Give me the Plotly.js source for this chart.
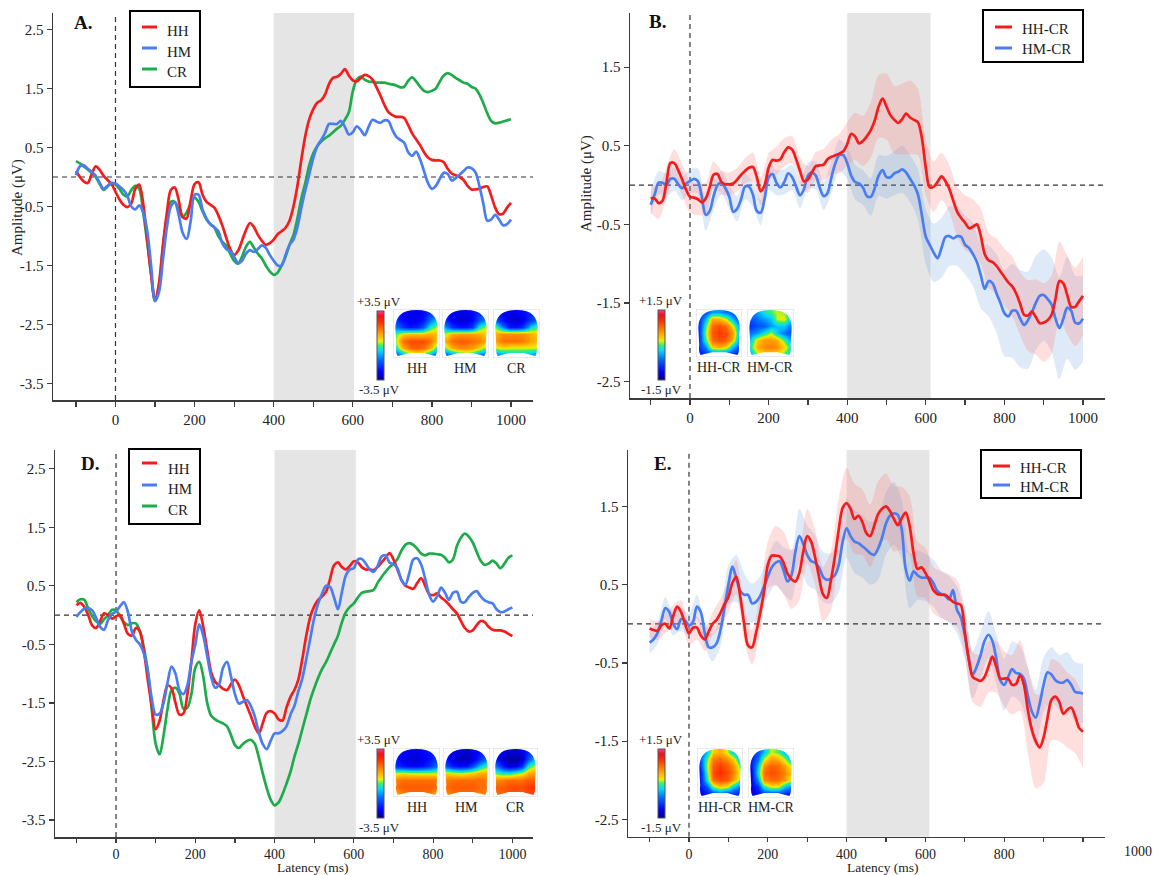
<!DOCTYPE html>
<html><head><meta charset="utf-8">
<script src="https://cdn.plot.ly/plotly-3.0.1.min.js"></script>
<style>html,body{margin:0;padding:0;background:#fff}#chart{width:1160px;height:875px}</style>
</head><body><div id="chart"></div>
<script>
const W=1160,H=875;
const SERIF='"Liberation Serif","Times New Roman",Times,serif';
const RED='#f51c1c', BLUE='#4a7df2', GREEN='#1eab4a';
const INK='#222', AXIS='#3c3c3c';
const T_START=-100, T_STEP=10, BAND_STEP=20;

// ---------- labels ----------
const COND=['HH','HM','CR'];
const DIFF=['HH-CR','HM-CR'];
const PANEL_LETTERS=['A.','B.','D.','E.'];
const CBAR_BIG=['+3.5 μV','-3.5 μV'];
const CBAR_SMALL=['+1.5 μV','-1.5 μV'];
const Y_TITLE='Amplitude (μV)', X_TITLE='Latency (ms)';
const X_TICKS=[-100,0,100,200,300,400,500,600,700,800,900,1000];
const X_LABELS=['','0','','200','','400','','600','','800','','1000'];
const X_LABELS_E=['','0','','200','','400','','600','','800','',''];
const Y_TICKS_AD=[-3.5,-2.5,-1.5,-0.5,0.5,1.5,2.5];
const Y_LABELS_AD=['-3.5','-2.5','-1.5','-0.5','0.5','1.5','2.5'];
const Y_TICKS_BE=[-2.5,-1.5,-0.5,0.5,1.5];
const Y_LABELS_BE=['-2.5','-1.5','-0.5','0.5','1.5'];

// ---------- waveforms (µV), -100..1000 ms every 10 ms ----------
const A_HH=[0.10,0.0,-0.08,-0.10,0.05,0.18,0.12,0.02,-0.05,-0.12,
 -0.25,-0.38,-0.47,-0.51,-0.45,-0.2,-0.13,-0.45,-1.05,-1.65,
 -2.1,-1.8,-1.15,-0.6,-0.22,-0.18,-0.4,-0.68,-0.7,-0.4,
 -0.12,-0.09,-0.3,-0.42,-0.47,-0.52,-0.65,-0.82,-1.03,-1.22,
 -1.32,-1.25,-1.08,-0.9,-0.78,-0.85,-0.98,-1.08,-1.15,-1.12,
 -1.06,-0.97,-0.92,-0.86,-0.74,-0.5,-0.15,0.3,0.7,0.98,
 1.15,1.26,1.3,1.4,1.58,1.68,1.7,1.75,1.83,1.72,
 1.64,1.62,1.68,1.73,1.71,1.65,1.52,1.38,1.22,1.1,
 1.05,1.02,1.02,1.0,0.88,0.74,0.64,0.54,0.42,0.33,
 0.29,0.28,0.28,0.25,0.14,0.06,0.03,0.0,-0.05,-0.15,
 -0.21,-0.21,-0.2,-0.17,-0.16,-0.32,-0.52,-0.63,-0.62,-0.52,
 -0.44];
const A_HM=[0.03,0.18,0.2,0.14,0.09,0.02,-0.1,-0.2,-0.15,-0.1,
 -0.11,-0.16,-0.22,-0.32,-0.5,-0.55,-0.48,-0.6,-0.9,-1.5,
 -2.1,-1.95,-1.4,-0.85,-0.5,-0.43,-0.65,-0.95,-1.05,-0.75,
 -0.3,-0.3,-0.55,-0.7,-0.8,-0.85,-0.92,-1.12,-1.22,-1.26,
 -1.35,-1.46,-1.42,-1.3,-1.24,-1.27,-1.22,-1.16,-1.2,-1.32,
 -1.42,-1.5,-1.5,-1.32,-1.15,-1.06,-0.85,-0.52,-0.22,0.05,
 0.32,0.52,0.63,0.75,0.9,0.9,0.9,0.95,0.85,0.72,
 0.76,0.86,0.8,0.71,0.85,0.97,0.94,0.92,0.96,0.95,
 0.8,0.68,0.63,0.58,0.42,0.36,0.43,0.3,0.1,-0.1,
 -0.2,-0.15,-0.03,0.07,0.05,-0.06,-0.02,0.04,0.1,0.16,
 0.15,0.08,-0.15,-0.45,-0.74,-0.72,-0.64,-0.72,-0.82,-0.8,
 -0.72];
const A_CR=[0.27,0.23,0.18,0.13,0.07,0.0,-0.12,-0.22,-0.16,-0.11,
 -0.13,-0.2,-0.3,-0.33,-0.22,-0.15,-0.2,-0.6,-1.1,-1.65,
 -2.1,-1.85,-1.2,-0.7,-0.42,-0.42,-0.55,-0.68,-0.6,-0.45,
 -0.35,-0.42,-0.58,-0.72,-0.8,-0.86,-1.0,-1.1,-1.16,-1.3,
 -1.42,-1.47,-1.35,-1.18,-1.1,-1.2,-1.3,-1.38,-1.5,-1.6,
 -1.66,-1.62,-1.5,-1.35,-1.15,-0.98,-0.7,-0.36,-0.1,0.2,
 0.4,0.52,0.6,0.66,0.7,0.76,0.82,0.87,0.97,1.1,
 1.45,1.65,1.7,1.65,1.62,1.61,1.6,1.6,1.6,1.58,
 1.57,1.55,1.52,1.53,1.63,1.69,1.62,1.53,1.46,1.44,
 1.46,1.5,1.62,1.72,1.76,1.73,1.68,1.64,1.6,1.58,
 1.53,1.5,1.4,1.25,1.08,0.95,0.91,0.92,0.94,0.96,
 0.98];
const B_HH=[-0.17,-0.17,-0.23,-0.2,0.03,0.28,0.28,0.19,0.07,-0.06,
 -0.15,-0.16,-0.18,-0.22,-0.17,-0.03,0.13,0.14,0.04,0.01,
 0.01,0.02,0.07,0.13,0.18,0.22,0.23,0.1,-0.08,0.0,
 0.22,0.32,0.31,0.33,0.42,0.48,0.45,0.33,0.18,0.05,
 0.07,0.16,0.24,0.25,0.26,0.33,0.36,0.38,0.4,0.43,
 0.52,0.65,0.62,0.53,0.56,0.62,0.7,0.82,1.0,1.1,
 1.0,0.89,0.83,0.79,0.84,0.91,0.86,0.83,0.8,0.6,
 0.22,-0.03,-0.02,0.04,0.11,0.05,-0.05,-0.2,-0.34,-0.42,
 -0.48,-0.55,-0.53,-0.5,-0.65,-0.88,-0.96,-0.98,-1.03,-1.1,
 -1.17,-1.24,-1.29,-1.38,-1.51,-1.65,-1.66,-1.61,-1.68,-1.76,
 -1.75,-1.72,-1.65,-1.45,-1.22,-1.25,-1.4,-1.55,-1.55,-1.48,
 -1.41];
const B_HM=[-0.25,-0.12,0.03,0.03,0.0,0.08,0.08,0.01,-0.04,0.02,
 0.05,0.08,0.05,-0.15,-0.38,-0.33,-0.14,0.0,0.03,-0.04,
 -0.15,-0.34,-0.3,-0.18,-0.02,-0.02,-0.12,-0.33,-0.35,-0.17,
 0.1,0.14,0.03,-0.03,0.04,0.15,0.1,-0.02,-0.13,-0.05,
 0.12,0.16,0.12,-0.03,-0.14,-0.1,0.1,0.28,0.38,0.38,
 0.28,0.12,0.04,0.02,-0.03,-0.14,-0.15,-0.04,0.12,0.19,
 0.1,0.1,0.15,0.17,0.2,0.16,0.08,0.0,-0.12,-0.38,
 -0.66,-0.76,-0.86,-0.93,-0.8,-0.66,-0.65,-0.68,-0.65,-0.66,
 -0.76,-0.8,-0.88,-0.98,-1.15,-1.32,-1.22,-1.25,-1.38,-1.5,
 -1.63,-1.67,-1.6,-1.6,-1.7,-1.78,-1.72,-1.62,-1.5,-1.41,
 -1.4,-1.45,-1.52,-1.7,-1.82,-1.7,-1.56,-1.6,-1.75,-1.76,
 -1.7];
const D_HH=[0.17,0.21,0.14,0.0,-0.18,-0.22,-0.1,0.03,0.0,-0.06,
 -0.02,0.0,-0.15,-0.32,-0.35,-0.22,-0.28,-0.6,-1.1,-1.55,
 -1.95,-1.8,-1.45,-1.2,-1.25,-1.5,-1.7,-1.68,-1.35,-0.8,
 -0.15,0.08,-0.2,-0.6,-0.98,-1.14,-1.2,-1.26,-1.28,-1.18,
 -1.1,-1.2,-1.38,-1.55,-1.72,-1.9,-2.02,-1.85,-1.67,-1.64,
 -1.68,-1.78,-1.8,-1.58,-1.4,-1.28,-1.1,-0.75,-0.35,-0.03,
 0.15,0.26,0.32,0.4,0.62,0.85,0.9,0.82,0.78,0.84,
 0.92,0.9,0.82,0.78,0.78,0.77,0.82,0.9,0.98,1.06,
 0.95,0.78,0.6,0.5,0.47,0.45,0.55,0.63,0.5,0.36,
 0.34,0.37,0.3,0.25,0.18,0.1,0.03,-0.1,-0.22,-0.28,
 -0.26,-0.17,-0.1,-0.12,-0.2,-0.25,-0.26,-0.26,-0.28,-0.32,
 -0.36];
const D_HM=[-0.03,0.05,0.11,0.12,0.08,-0.05,-0.2,-0.25,-0.08,0.02,
 0.06,0.15,0.22,0.05,-0.28,-0.42,-0.5,-0.65,-0.95,-1.42,
 -1.7,-1.68,-1.5,-1.15,-0.88,-1.0,-1.28,-1.35,-1.2,-0.8,
 -0.5,-0.16,-0.35,-0.7,-1.05,-1.24,-1.18,-0.9,-0.8,-1.05,
 -1.35,-1.51,-1.48,-1.45,-1.55,-1.73,-2.0,-2.2,-2.29,-2.15,
 -2.02,-2.02,-1.98,-1.9,-1.7,-1.55,-1.3,-1.08,-0.75,-0.4,
 -0.05,0.2,0.37,0.5,0.48,0.3,0.1,0.4,0.68,0.78,
 0.8,0.95,0.96,0.88,0.78,0.74,0.84,1.0,1.02,0.9,
 0.87,0.8,0.6,0.52,0.72,0.95,0.97,0.86,0.62,0.35,
 0.23,0.32,0.47,0.38,0.26,0.38,0.4,0.23,0.22,0.31,
 0.38,0.41,0.32,0.25,0.22,0.2,0.1,0.05,0.06,0.1,
 0.13];
const D_CR=[0.22,0.27,0.26,0.11,-0.02,-0.11,-0.15,-0.07,0.0,0.09,
 0.08,-0.02,-0.12,-0.17,-0.14,-0.14,-0.27,-0.55,-0.95,-1.6,
 -2.2,-2.38,-2.05,-1.6,-1.28,-1.24,-1.34,-1.6,-1.58,-1.35,
 -0.9,-0.8,-1.05,-1.5,-1.72,-1.78,-1.82,-1.85,-1.9,-2.05,
 -2.22,-2.27,-2.2,-2.15,-2.13,-2.2,-2.42,-2.7,-2.95,-3.15,
 -3.25,-3.2,-3.06,-2.88,-2.68,-2.42,-2.2,-1.95,-1.7,-1.45,
 -1.25,-1.07,-0.92,-0.8,-0.65,-0.5,-0.35,-0.12,0.05,0.14,
 0.2,0.3,0.38,0.4,0.41,0.43,0.55,0.65,0.74,0.82,
 0.88,0.96,1.1,1.2,1.23,1.2,1.13,1.05,1.02,1.05,
 1.05,1.04,1.03,0.98,0.9,0.95,1.18,1.32,1.39,1.34,
 1.24,1.08,0.93,0.86,0.88,0.93,0.88,0.8,0.88,0.98,
 1.02];
const E_HH=[-0.06,-0.08,-0.09,-0.02,0.0,-0.06,0.1,0.22,0.15,0.0,
 -0.12,-0.05,-0.05,-0.15,-0.2,-0.1,0.0,0.05,0.14,0.25,
 0.34,0.52,0.6,0.35,0.0,-0.28,-0.3,-0.12,0.12,0.4,
 0.75,0.87,0.87,0.86,0.78,0.64,0.57,0.54,0.65,0.92,
 1.12,1.05,0.85,0.6,0.38,0.33,0.55,0.85,1.2,1.48,
 1.54,1.47,1.34,1.38,1.3,1.16,1.12,1.25,1.4,1.47,
 1.5,1.44,1.34,1.26,1.35,1.42,1.25,0.9,0.7,0.72,
 0.65,0.55,0.43,0.38,0.37,0.37,0.33,0.28,0.26,0.24,
 -0.1,-0.45,-0.68,-0.71,-0.73,-0.68,-0.55,-0.42,-0.55,-0.7,
 -0.7,-0.7,-0.78,-0.77,-0.66,-0.78,-1.1,-1.35,-1.5,-1.58,
 -1.45,-1.2,-0.97,-0.93,-1.0,-1.15,-1.1,-1.07,-1.18,-1.33,
 -1.38];
const E_HM=[-0.24,-0.2,-0.12,0.04,0.2,0.15,0.0,-0.07,0.06,0.04,
 -0.02,0.02,0.22,0.15,-0.12,-0.3,-0.3,-0.25,-0.08,0.2,
 0.5,0.73,0.58,0.42,0.37,0.37,0.26,0.28,0.35,0.47,
 0.6,0.72,0.78,0.8,0.68,0.54,0.62,0.92,1.12,1.02,
 0.88,0.8,0.78,0.72,0.6,0.56,0.58,0.62,0.75,1.05,
 1.22,1.12,1.05,1.03,0.99,0.95,0.9,0.88,0.96,1.1,
 1.28,1.38,1.41,1.39,1.2,0.7,0.55,0.67,0.62,0.59,
 0.59,0.59,0.52,0.42,0.38,0.36,0.31,0.43,0.18,0.08,
 -0.15,-0.45,-0.65,-0.55,-0.4,-0.22,-0.14,-0.22,-0.45,-0.72,
 -0.78,-0.68,-0.58,-0.63,-0.64,-0.7,-0.92,-1.12,-1.2,-1.02,
 -0.78,-0.62,-0.65,-0.72,-0.75,-0.75,-0.72,-0.78,-0.87,-0.88,
 -0.89];

// ---------- error-band half widths (µV), every 20 ms ----------
const B_HH_HW=[0.18,0.2,0.2,0.18,0.2,0.2,0.2,0.2,0.17,0.15,0.15,0.15,0.16,0.18,0.18,0.18,0.18,0.18,0.17,0.17,
 0.17,0.18,0.2,0.22,0.25,0.28,0.3,0.32,0.35,0.4,0.42,0.43,0.45,0.47,0.42,0.35,0.32,0.3,0.3,0.32,
 0.35,0.35,0.35,0.35,0.35,0.36,0.38,0.4,0.45,0.48,0.5,0.5,0.5,0.5,0.5,0.5];
const B_HM_HW=[0.15,0.15,0.15,0.15,0.15,0.15,0.16,0.2,0.17,0.15,0.15,0.16,0.16,0.16,0.16,0.16,0.16,0.16,0.16,0.17,
 0.17,0.18,0.18,0.2,0.2,0.2,0.22,0.22,0.24,0.26,0.27,0.28,0.3,0.3,0.32,0.35,0.37,0.38,0.38,0.38,
 0.38,0.4,0.42,0.45,0.5,0.55,0.6,0.62,0.62,0.6,0.58,0.6,0.65,0.65,0.6,0.55];
const E_HH_HW=[0.12,0.12,0.12,0.14,0.15,0.15,0.15,0.15,0.15,0.18,0.2,0.22,0.22,0.22,0.25,0.3,0.38,0.4,0.38,0.35,
 0.35,0.35,0.35,0.38,0.4,0.45,0.45,0.42,0.4,0.42,0.42,0.42,0.4,0.38,0.35,0.32,0.3,0.3,0.3,0.3,
 0.3,0.32,0.33,0.33,0.33,0.35,0.38,0.45,0.55,0.6,0.58,0.52,0.5,0.48,0.47,0.47];
const E_HM_HW=[0.14,0.14,0.14,0.15,0.15,0.15,0.15,0.16,0.18,0.2,0.25,0.3,0.28,0.25,0.25,0.25,0.28,0.3,0.32,0.35,
 0.38,0.35,0.32,0.32,0.35,0.38,0.4,0.4,0.4,0.4,0.4,0.4,0.38,0.35,0.32,0.3,0.3,0.3,0.3,0.3,
 0.3,0.3,0.3,0.3,0.32,0.33,0.35,0.36,0.36,0.36,0.35,0.35,0.35,0.36,0.38,0.38];

// ---------- scalp maps (relative amplitude -1..1), rows front->back ----------
const TOPO_A_HH=[[-0.7,-0.75,-0.8,-0.8,-0.75,-0.6,-0.5],[-0.6,-0.75,-0.8,-0.8,-0.7,-0.4,-0.2],[-0.4,-0.6,-0.7,-0.65,-0.5,-0.1,0.1],[0.0,0.2,0.25,0.25,0.25,0.3,0.25],[0.1,0.5,0.6,0.6,0.6,0.5,0.2],[-0.1,0.3,0.5,0.55,0.5,0.3,-0.1],[-0.5,-0.3,-0.1,0.0,-0.1,-0.3,-0.5]];
const TOPO_A_HM=[[-0.7,-0.75,-0.8,-0.8,-0.75,-0.6,-0.5],[-0.6,-0.8,-0.85,-0.85,-0.75,-0.5,-0.3],[-0.3,-0.6,-0.7,-0.7,-0.6,-0.1,0.1],[0.1,0.3,0.35,0.35,0.35,0.3,0.2],[0.3,0.5,0.55,0.55,0.5,0.45,0.3],[0.0,0.3,0.4,0.4,0.35,0.2,0.0],[-0.5,-0.4,-0.2,-0.1,-0.2,-0.4,-0.5]];
const TOPO_A_CR=[[-0.7,-0.75,-0.8,-0.8,-0.75,-0.65,-0.55],[-0.5,-0.75,-0.85,-0.85,-0.8,-0.6,-0.4],[0.0,-0.4,-0.7,-0.7,-0.6,-0.2,0.0],[0.3,0.4,0.4,0.4,0.4,0.3,0.2],[0.35,0.5,0.5,0.5,0.45,0.35,0.25],[0.1,0.15,0.1,0.1,0.1,0.1,0.1],[-0.4,-0.3,-0.2,-0.2,-0.2,-0.3,-0.4]];
const TOPO_B_HH=[[-0.6,-0.5,-0.3,-0.3,-0.4,-0.5,-0.6],[-0.6,-0.2,0.3,0.3,0.1,-0.2,-0.5],[-0.6,0.0,0.5,0.6,0.5,0.2,-0.3],[-0.6,0.1,0.55,0.65,0.6,0.4,-0.2],[-0.6,0.0,0.5,0.6,0.55,0.3,-0.3],[-0.6,-0.3,0.2,0.3,0.2,-0.2,-0.5],[-0.7,-0.6,-0.5,-0.5,-0.5,-0.6,-0.7]];
const TOPO_B_HM=[[-0.4,-0.3,-0.1,0.0,0.1,0.05,-0.2],[-0.5,-0.4,-0.3,-0.2,0.1,0.15,-0.2],[-0.6,-0.5,-0.45,-0.3,-0.2,-0.2,-0.4],[-0.4,-0.3,-0.1,0.1,-0.2,-0.4,-0.5],[-0.2,0.2,0.35,0.35,0.3,0.0,-0.3],[-0.1,0.3,0.4,0.45,0.4,0.2,-0.1],[-0.3,0.05,0.2,0.2,0.15,0.0,-0.2]];
const TOPO_D_HH=[[-0.7,-0.75,-0.8,-0.8,-0.75,-0.7,-0.6],[-0.7,-0.8,-0.85,-0.85,-0.8,-0.7,-0.55],[-0.6,-0.7,-0.75,-0.75,-0.7,-0.6,-0.4],[0.1,0.15,0.1,0.1,0.1,0.1,0.1],[0.45,0.5,0.5,0.5,0.5,0.5,0.45],[0.5,0.55,0.55,0.55,0.55,0.55,0.5],[0.3,0.45,0.5,0.5,0.5,0.45,0.3]];
const TOPO_D_HM=[[-0.7,-0.8,-0.85,-0.85,-0.8,-0.7,-0.6],[-0.7,-0.85,-0.9,-0.9,-0.85,-0.6,-0.4],[-0.5,-0.7,-0.75,-0.7,-0.5,-0.2,0.0],[0.2,0.15,0.1,0.15,0.2,0.3,0.3],[0.45,0.5,0.5,0.5,0.5,0.5,0.45],[0.5,0.55,0.55,0.55,0.55,0.5,0.5],[0.4,0.5,0.5,0.5,0.5,0.45,0.4]];
const TOPO_D_CR=[[-0.7,-0.8,-0.85,-0.85,-0.8,-0.65,-0.5],[-0.7,-0.9,-0.95,-0.95,-0.9,-0.5,-0.2],[-0.4,-0.7,-0.85,-0.8,-0.6,-0.1,0.1],[0.0,-0.1,-0.1,0.0,0.1,0.3,0.35],[0.4,0.45,0.5,0.5,0.5,0.55,0.55],[0.55,0.55,0.6,0.6,0.6,0.65,0.7],[0.5,0.55,0.55,0.55,0.55,0.6,0.6]];
const TOPO_E_HH=[[-0.5,-0.2,0.2,0.3,0.1,-0.2,-0.4],[-0.5,0.0,0.45,0.5,0.4,0.2,-0.2],[-0.6,0.1,0.55,0.65,0.55,0.4,0.0],[-0.7,0.0,0.6,0.7,0.6,0.45,0.1],[-0.7,-0.1,0.5,0.6,0.55,0.35,0.0],[-0.7,-0.5,0.0,0.2,0.1,-0.2,-0.4],[-0.8,-0.7,-0.6,-0.5,-0.6,-0.6,-0.7]];
const TOPO_E_HM=[[-0.6,-0.5,-0.2,0.1,0.0,-0.2,-0.4],[-0.7,-0.4,0.1,0.35,0.3,0.1,-0.2],[-0.7,-0.2,0.4,0.55,0.5,0.35,0.1],[-0.8,-0.1,0.5,0.6,0.55,0.45,0.2],[-0.8,-0.3,0.4,0.5,0.5,0.35,0.1],[-0.8,-0.6,-0.1,0.1,0.1,-0.2,-0.4],[-0.85,-0.75,-0.6,-0.55,-0.6,-0.65,-0.7]];

const JET=[[0,'#00008a'],[0.12,'#0000ff'],[0.3,'#0070ff'],[0.42,'#00d8ff'],[0.5,'#3cf06e'],[0.56,'#e8f000'],[0.62,'#ffc000'],[0.72,'#ff8000'],[0.84,'#ff3000'],[0.93,'#f01020'],[1,'#ff3f8f']];

// ---------- helpers ----------
const px=x=>x/W, py=y=>1-y/H;
function times(n,step){const a=[];for(let i=0;i<n;i++)a.push(T_START+i*step);return a;}
const T=times(A_HH.length,T_STEP);
const TB=times(B_HH_HW.length,BAND_STEP);
const BAND_RED='rgba(255,115,115,0.24)', BAND_BLUE='rgba(110,160,225,0.22)';

const panels=[
 {n:1,letter:PANEL_LETTERS[0],letterPos:[82.5,22.5],box:[53,533,13,400],xr:[-158,1055.6],yr:[-3.78,2.78],
  yt:Y_TICKS_AD,yl:Y_LABELS_AD,xl:X_LABELS,shade:[400,603],xfs:15,xtl:5,
  lines:[[A_CR,GREEN],[A_HH,RED],[A_HM,BLUE]],bands:[],
  legend:{box:[130,200,11,87],items:[[COND[0],RED,27,31],[COND[1],BLUE,48,52],[COND[2],GREEN,69,72]],sx:[142,157],tx:165},
  ytitle:[17,208],xtitle:null,
  cbar:{x:377,y0:311,y1:380,labX:379,topY:301,botY:389,txt:CBAR_BIG},
  topos:[[COND[0],[393,440,309,358],TOPO_A_HH],[COND[1],[442,489,309,358],TOPO_A_HM],[COND[2],[493,540,309,358],TOPO_A_CR]],topoLabelY:368},
 {n:2,letter:PANEL_LETTERS[1],letterPos:[657,22],box:[630,1105,13,398],xr:[-152.7,1056],yr:[-2.71,2.19],
  yt:Y_TICKS_BE,yl:Y_LABELS_BE,xl:X_LABELS,shade:[400,612],xfs:15,xtl:5,
  lines:[[B_HM,BLUE],[B_HH,RED]],bands:[[B_HM,B_HM_HW,BAND_BLUE],[B_HH,B_HH_HW,BAND_RED]],
  legend:{box:[983,1083,10,62],items:[[DIFF[0],RED,27,29],[DIFF[1],BLUE,48,49]],sx:[995,1012],tx:1020},
  ytitle:[586,184],xtitle:null,
  cbar:{x:658,y0:310,y1:380,labX:661,topY:300,botY:389,txt:CBAR_SMALL},
  topos:[[DIFF[0],[696,742,309,357],TOPO_B_HH],[DIFF[1],[747,794,309,357],TOPO_B_HM]],topoLabelY:367},
 {n:3,letter:PANEL_LETTERS[2],letterPos:[90,463.5],box:[55,533,450,837],xr:[-154,1052],yr:[-3.79,2.82],
  yt:Y_TICKS_AD,yl:Y_LABELS_AD,xl:X_LABELS,shade:[400,605],xfs:14,xtl:4,
  lines:[[D_CR,GREEN],[D_HH,RED],[D_HM,BLUE]],bands:[],
  legend:{box:[129,200,449,524],items:[[COND[0],RED,463,469],[COND[1],BLUE,485,489],[COND[2],GREEN,506,510]],sx:[142,157],tx:166},
  ytitle:null,xtitle:[313,867.5],
  cbar:{x:377,y0:749,y1:818,labX:379,topY:739,botY:827,txt:CBAR_BIG},
  topos:[[COND[0],[393,440,748,797],TOPO_D_HH],[COND[1],[443,490,748,797],TOPO_D_HM],[COND[2],[493,538,748,797],TOPO_D_CR]],topoLabelY:807},
 {n:4,letter:PANEL_LETTERS[3],letterPos:[662,463.5],box:[628,1105,450,836.7],xr:[-154.8,1055.8],yr:[-2.72,2.22],
  yt:Y_TICKS_BE,yl:Y_LABELS_BE,xl:X_LABELS_E,shade:[400,610],xfs:14,xtl:4,
  lines:[[E_HM,BLUE],[E_HH,RED]],bands:[[E_HM,E_HM_HW,BAND_BLUE],[E_HH,E_HH_HW,BAND_RED]],
  legend:{box:[981,1081,450,498],items:[[DIFF[0],RED,466,468],[DIFF[1],BLUE,485,487]],sx:[993,1010],tx:1018},
  ytitle:null,xtitle:[883,867.5],extraTick:['1000',1138,851],
  cbar:{x:658,y0:749,y1:818,labX:661,topY:739,botY:827,txt:CBAR_SMALL},
  topos:[[DIFF[0],[697,743,748,798],TOPO_E_HH],[DIFF[1],[748,794,748,798],TOPO_E_HM]],topoLabelY:807}
];

const traces=[], shapes=[], annotations=[];
const layout={width:W,height:H,margin:{l:0,r:0,t:0,b:0},paper_bgcolor:'#fff',plot_bgcolor:'rgba(0,0,0,0)',
  showlegend:false,font:{family:SERIF,color:INK}};
function ann(text,x,y,o){annotations.push(Object.assign({text:text,x:px(x),y:py(y),xref:'paper',yref:'paper',showarrow:false,
  xanchor:'center',yanchor:'middle',font:{family:SERIF,size:14,color:INK}},o||{}));}

const HEAD='M0,0 L1,0 L1,1 L0,1 Z M0.5,0.98 Q0.75,0.98 0.85,0.88 Q0.95,0.78 0.95,0.6 L0.93,0.25 Q0.95,0.1 0.9,0.04 L0.65,0.1 L0.35,0.1 L0.1,0.04 Q0.05,0.1 0.07,0.25 L0.05,0.6 Q0.05,0.78 0.15,0.88 Q0.25,0.98 0.5,0.98 Z';
let topoIdx=5;
const NC=7, cx=[],cy=[];
for(let i=0;i<NC;i++){cx.push((i+0.5)/NC);cy.push((i+0.5)/NC);}

panels.forEach(p=>{
  const s=p.n===1?'':String(p.n);
  const xa='x'+s, ya='y'+s, b=p.box;
  const tickfont={family:SERIF,size:15,color:INK};
  layout['xaxis'+s]={domain:[px(b[0]),px(b[1])],range:p.xr,anchor:ya,showline:true,linecolor:AXIS,linewidth:1.5,
    ticks:'outside',ticklen:p.xtl,tickwidth:1.2,tickcolor:AXIS,tickmode:'array',tickvals:X_TICKS,ticktext:p.xl,
    showgrid:false,zeroline:false,tickfont:{family:SERIF,size:p.xfs,color:INK},fixedrange:true};
  layout['yaxis'+s]={domain:[py(b[3]),py(b[2])],range:p.yr,anchor:xa,showline:true,linecolor:AXIS,linewidth:1.5,
    ticks:'outside',ticklen:5,tickwidth:1.2,tickcolor:AXIS,tickmode:'array',tickvals:p.yt,ticktext:p.yl,
    showgrid:false,zeroline:false,tickfont:tickfont,fixedrange:true};
  shapes.push({type:'rect',xref:xa,yref:ya+' domain',x0:p.shade[0],x1:p.shade[1],y0:0,y1:1,fillcolor:'#e5e5e5',line:{width:0},layer:'below'});
  const dash={color:'#333',width:1.2,dash:'5px,4px'};
  shapes.push({type:'line',xref:xa,yref:ya+' domain',x0:0,x1:0,y0:0,y1:1,line:dash,layer:'below'});
  shapes.push({type:'line',xref:xa+' domain',yref:ya,x0:0,x1:1,y0:0,y1:0,line:dash,layer:'below'});
  p.bands.forEach(bd=>{
    const ln=bd[0], hw=bd[1];
    const lo=TB.map((t,i)=>ln[i*2]-hw[i]), hi=TB.map((t,i)=>ln[i*2]+hw[i]);
    traces.push({type:'scatter',mode:'lines',x:TB,y:lo,xaxis:xa,yaxis:ya,line:{width:0,shape:'spline',smoothing:0.8},hoverinfo:'skip'});
    traces.push({type:'scatter',mode:'lines',x:TB,y:hi,xaxis:xa,yaxis:ya,line:{width:0,shape:'spline',smoothing:0.8},fill:'tonexty',fillcolor:bd[2],hoverinfo:'skip'});
  });
  p.lines.forEach(l=>{
    traces.push({type:'scatter',mode:'lines',x:T,y:l[0],xaxis:xa,yaxis:ya,line:{color:l[1],width:2.7,shape:'spline',smoothing:0.9},hoverinfo:'skip'});
  });
  const L=p.legend;
  shapes.push({type:'rect',xref:'paper',yref:'paper',x0:px(L.box[0]),x1:px(L.box[1]),y0:py(L.box[3]),y1:py(L.box[2]),line:{color:'#000',width:2},fillcolor:'#fff',layer:'above'});
  L.items.forEach(it=>{
    shapes.push({type:'line',xref:'paper',yref:'paper',x0:px(L.sx[0]),x1:px(L.sx[1]),y0:py(it[2]),y1:py(it[2]),line:{color:it[1],width:3},layer:'above'});
    ann(it[0],L.tx,it[3],{xanchor:'left',font:{family:SERIF,size:15,color:INK}});
  });
  ann(p.letter,p.letterPos[0],p.letterPos[1],{font:{family:SERIF,size:19,color:'#111',weight:'bold'}});
  if(p.ytitle) ann(Y_TITLE,p.ytitle[0],p.ytitle[1],{textangle:-90,font:{family:SERIF,size:15,color:INK}});
  if(p.xtitle) ann(X_TITLE,p.xtitle[0],p.xtitle[1],{font:{family:SERIF,size:13.5,color:INK},borderpad:0});
  if(p.extraTick) ann(p.extraTick[0],p.extraTick[1],p.extraTick[2],{font:{family:SERIF,size:p.xfs,color:INK}});
  const cb=p.cbar;
  ann(cb.txt[0],cb.labX,cb.topY,{font:{family:SERIF,size:13,color:INK}});
  ann(cb.txt[1],cb.labX,cb.botY,{font:{family:SERIF,size:13,color:INK}});
  p.topos.forEach((tp,j)=>{
    const k=topoIdx++, tb=tp[1];
    layout['xaxis'+k]={domain:[px(tb[0]),px(tb[1])],range:[0,1],anchor:'y'+k,visible:false,fixedrange:true};
    layout['yaxis'+k]={domain:[py(tb[3]),py(tb[2])],range:[0,1],anchor:'x'+k,visible:false,fixedrange:true};
    const tr={type:'heatmap',xaxis:'x'+k,yaxis:'y'+k,x:cx,y:cy,z:tp[2].slice().reverse(),zmin:-1,zmax:1,
      colorscale:JET,zsmooth:'best',showscale:j===0,hoverinfo:'skip'};
    if(j===0){
      tr.colorbar={x:px(cb.x),xanchor:'left',xref:'paper',y:py((cb.y0+cb.y1)/2),yanchor:'middle',yref:'paper',
        len:cb.y1-cb.y0,lenmode:'pixels',thickness:7,thicknessmode:'pixels',xpad:0,ypad:0,
        outlinewidth:1,outlinecolor:'#555',ticks:'',showticklabels:false,borderwidth:0};
    }
    traces.push(tr);
    shapes.push({type:'path',xref:'x'+k,yref:'y'+k,path:HEAD,fillcolor:'#fff',line:{width:0},layer:'above',fillrule:'evenodd'});
    shapes.push({type:'rect',xref:'x'+k,yref:'y'+k,x0:0,x1:1,y0:0,y1:1,line:{color:'#d6d6d6',width:1},layer:'above'});
    ann(tp[0],(tb[0]+tb[1])/2,p.topoLabelY,{font:{family:SERIF,size:14,color:INK}});
  });
});
layout.shapes=shapes; layout.annotations=annotations;
Plotly.newPlot('chart',traces,layout,{staticPlot:true,displayModeBar:false});
</script></body></html>
